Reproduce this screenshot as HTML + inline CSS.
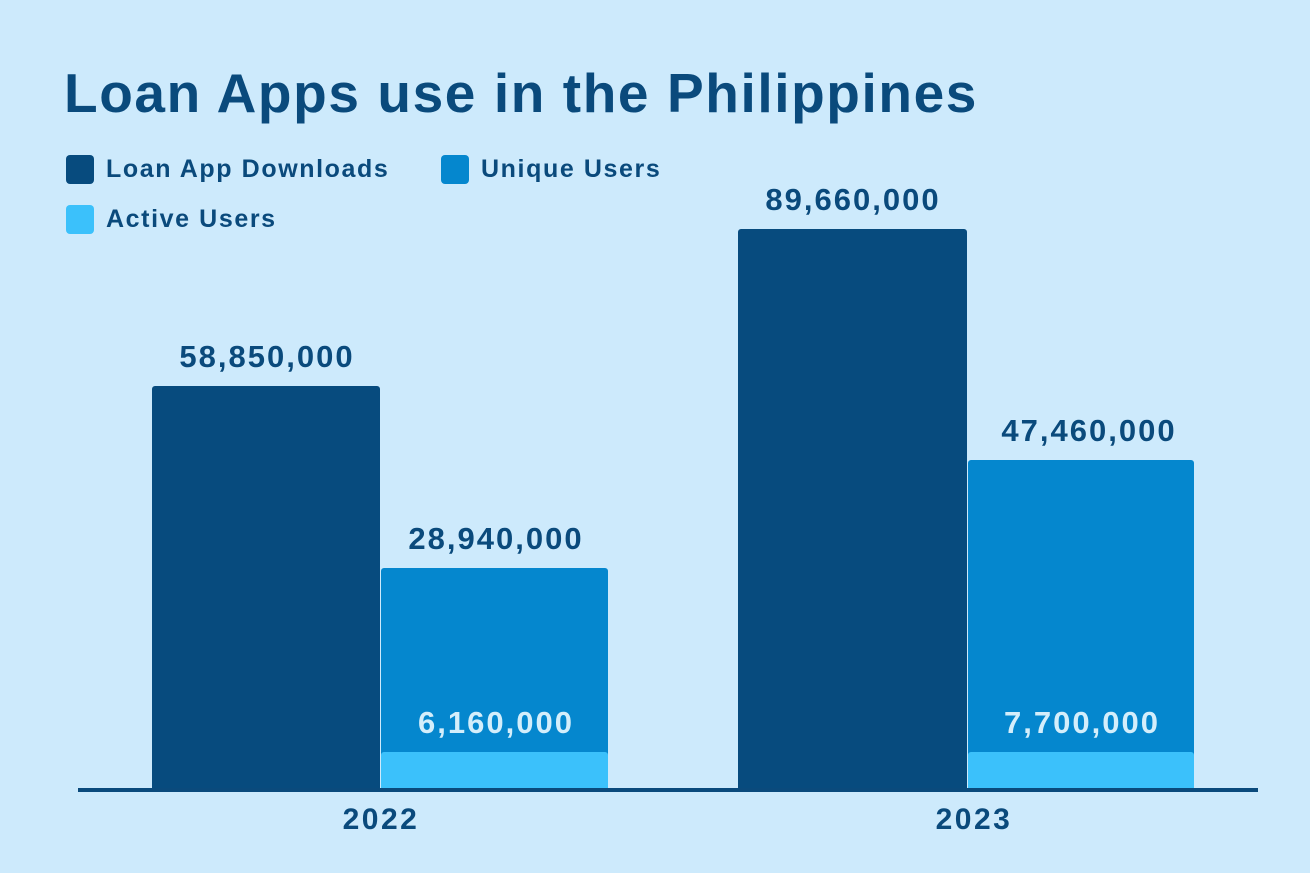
<!DOCTYPE html>
<html><head><meta charset="utf-8"><style>
body{margin:0;width:1310px;height:873px;background:#cdeafc;position:relative;overflow:hidden;font-family:"Liberation Sans",sans-serif;font-weight:bold;color:#0a4a7c}
div{position:absolute}
.t{left:64px;top:61px;font-size:55px;letter-spacing:1.6px}
.sq{width:28px;height:29px;border-radius:4px}
.lg{font-size:25px;letter-spacing:1.6px}
.b{border-radius:3px 3px 0 0}
.v{font-size:31px;letter-spacing:2px;text-align:center;width:300px}
.y{font-size:30px;letter-spacing:2.5px;text-align:center;width:200px}
</style></head><body>
<div class="t">Loan Apps use in the Philippines</div>
<div class="sq" style="left:66px;top:155px;background:#074b7e"></div>
<div class="lg" style="left:106px;top:155px">Loan App Downloads</div>
<div class="sq" style="left:441px;top:155px;background:#0587ce"></div>
<div class="lg" style="left:481px;top:155px">Unique Users</div>
<div class="sq" style="left:66px;top:205px;background:#3bc1fb"></div>
<div class="lg" style="left:106px;top:205px">Active Users</div>

<div class="b" style="left:152px;top:386px;width:228px;height:404px;background:#074b7e"></div>
<div class="b" style="left:381px;top:568px;width:227px;height:222px;background:#0587ce"></div>
<div class="b" style="left:381px;top:752px;width:227px;height:38px;background:#3bc1fb"></div>
<div class="b" style="left:738px;top:229px;width:229px;height:561px;background:#074b7e"></div>
<div class="b" style="left:968px;top:460px;width:226px;height:330px;background:#0587ce"></div>
<div class="b" style="left:968px;top:752px;width:226px;height:38px;background:#3bc1fb"></div>
<div style="left:78px;top:788px;width:1180px;height:4px;background:#0a4a7c"></div>

<div class="v" style="left:117px;top:339px">58,850,000</div>
<div class="v" style="left:346px;top:521px">28,940,000</div>
<div class="v" style="left:346px;top:705px;color:#d4eefb">6,160,000</div>
<div class="v" style="left:703px;top:182px">89,660,000</div>
<div class="v" style="left:939px;top:413px">47,460,000</div>
<div class="v" style="left:932px;top:705px;color:#d4eefb">7,700,000</div>
<div class="y" style="left:281px;top:803px">2022</div>
<div class="y" style="left:874px;top:803px">2023</div>
</body></html>
